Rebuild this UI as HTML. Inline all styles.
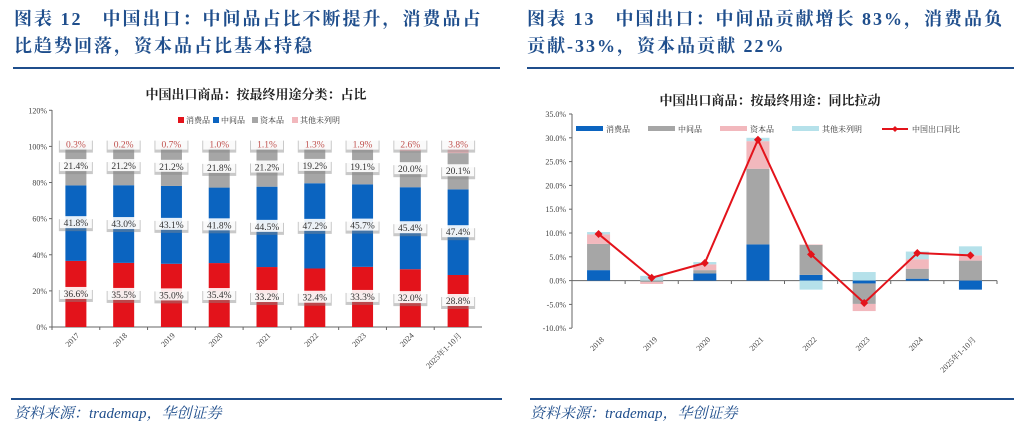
<!DOCTYPE html>
<html><head><meta charset="utf-8"><style>
body{margin:0;background:#fff;width:1024px;height:438px;overflow:hidden}
svg{display:block}
</style></head><body>
<svg id="s" width="1024" height="438" xmlns="http://www.w3.org/2000/svg" font-family="'Liberation Serif','Noto Serif CJK SC',serif">
<g font-family="'Liberation Serif','Noto Serif CJK SC',serif" font-weight="bold" font-size="18" fill="#1f4e8c" letter-spacing="2">
<text x="14" y="25">图表 12　中国出口：中间品占比不断提升，消费品占</text>
<text x="14" y="52">比趋势回落，资本品占比基本持稳</text>
<text x="527" y="25">图表 13　中国出口：中间品贡献增长 83%，消费品负</text>
<text x="527" y="52">贡献-33%，资本品贡献 22%</text>
</g>
<rect x="13" y="67" width="487" height="2" fill="#1f4e8c"/>
<rect x="527" y="67" width="487" height="2" fill="#1f4e8c"/>
<rect x="11" y="398" width="491" height="2" fill="#1f4e8c"/>
<rect x="530" y="398" width="484" height="2" fill="#1f4e8c"/>
<g font-style="italic" font-size="15" fill="#1f4e8c">
<text x="14" y="418">资料来源：trademap，华创证券</text>
<text x="530" y="418">资料来源：trademap，华创证券</text>
</g>
<g id="L"></g><g id="R"></g>
</svg>
<script>
const NS="http://www.w3.org/2000/svg";
function el(p,t,a,txt){const e=document.createElementNS(NS,t);for(const k in a)e.setAttribute(k,a[k]);if(txt!==undefined)e.textContent=txt;p.appendChild(e);return e;}
const L=document.getElementById('L');
el(L,'text',{x:256,y:99,'text-anchor':'middle','font-size':13,'font-weight':'bold',fill:'#222'},'中国出口商品：按最终用途分类：占比');
const y0=327,pp=1.806,xl=52,xr=482;
for(let i=0;i<=6;i++){const y=y0-i*20*pp;el(L,'text',{x:47,y:y+3,'text-anchor':'end','font-size':8,fill:'#444'},(i*20)+'%');el(L,'line',{x1:49,x2:52,y1:y,y2:y,stroke:'#666'});}
el(L,'line',{x1:52,x2:52,y1:110,y2:327,stroke:'#666'});
el(L,'line',{x1:52,x2:482,y1:327,y2:327,stroke:'#666'});
const D=[[36.6,41.8,21.4,0.3],[35.5,43.0,21.2,0.2],[35.0,43.1,21.2,0.7],[35.4,41.8,21.8,1.0],[33.2,44.5,21.2,1.1],[32.4,47.2,19.2,1.3],[33.3,45.7,19.1,1.9],[32.0,45.4,20.0,2.6],[28.8,47.4,20.1,3.8]];
const yrs=['2017','2018','2019','2020','2021','2022','2023','2024','2025年1-10月'];
const cols=['#e3131b','#0b64c0','#a6a6a6','#f2b8bd'];
const cw=(xr-xl)/9;
D.forEach((d,i)=>{const cx=xl+cw*(i+0.5);let acc=0;
 d.forEach((v,j)=>{el(L,'rect',{x:cx-10.5,y:y0-(acc+v)*pp,width:21,height:v*pp,fill:cols[j]});acc+=v;});
 acc=0;
 d.forEach((v,j)=>{let mid=j==3?101:acc+v/2;acc+=v;const y=y0-mid*pp;
  el(L,'rect',{x:cx-17,y:y-4,width:34,height:12,fill:'#888',opacity:0.45});
  el(L,'rect',{x:cx-16,y:y-7,width:32,height:12,fill:'#fff',opacity:0.9});
  el(L,'text',{x:cx,y:y+3,'text-anchor':'middle','font-size':9.5,fill:j==3?'#c0504d':'#333'},v.toFixed(1)+'%');});
 el(L,'line',{x1:xl+cw*i,x2:xl+cw*i,y1:327,y2:330,stroke:'#666'});
 el(L,'text',{transform:`translate(${cx+4},${336}) rotate(-45)`,'text-anchor':'end','font-size':8,fill:'#444'},yrs[i]);});
const lg=[['消费品',178],['中间品',213],['资本品',252],['其他未列明',292]];
lg.forEach((g,j)=>{el(L,'rect',{x:g[1],y:117,width:6,height:6,fill:cols[j]});el(L,'text',{x:g[1]+8,y:123,'font-size':8,fill:'#333'},g[0]);});
const R=document.getElementById('R');
el(R,'text',{x:770,y:105,'text-anchor':'middle','font-size':13,'font-weight':'bold',fill:'#222'},'中国出口商品：按最终用途：同比拉动');
const ry=v=>280.6-v*4.76, rl=572, rr=997;
for(let v=-10;v<=35;v+=5){el(R,'text',{x:566,y:ry(v)+3,'text-anchor':'end','font-size':8,fill:'#444'},v.toFixed(1)+'%');el(R,'line',{x1:569,x2:572,y1:ry(v),y2:ry(v),stroke:'#666'});}
el(R,'line',{x1:572,x2:572,y1:114,y2:328,stroke:'#666'});
el(R,'line',{x1:572,x2:997,y1:280.6,y2:280.6,stroke:'#666'});
const rc=['#0b64c0','#a6a6a6','#f2b8bd','#b5e1ea'];
const S=[
[[0,0,2.2],[1,2.2,7.7],[2,7.7,9.7],[3,9.7,10.2]],
[[3,0,1.0],[1,0,-0.3],[2,-0.3,-0.7]],
[[0,0,1.5],[1,1.5,2.2],[2,2.2,3.4],[3,3.4,3.9]],
[[0,0,7.6],[1,7.6,23.5],[2,23.5,29.3],[3,29.3,30]],
[[0,0,1.2],[1,1.2,7.5],[2,7.5,7.6],[3,0,-1.9]],
[[3,0,1.8],[0,0,-0.6],[1,-0.6,-4.9],[2,-4.9,-6.4]],
[[0,0,0.4],[1,0.4,2.5],[2,2.5,4.5],[3,4.5,6.1]],
[[1,0,4.2],[2,4.2,5.3],[3,5.3,7.2],[0,0,-1.9]]];
const ln=[9.8,0.6,3.7,29.6,5.5,-4.7,5.8,5.3];
const ry2=['2018','2019','2020','2021','2022','2023','2024','2025年1-10月'];
const rw=(rr-rl)/8;let pts=[];
S.forEach((s,i)=>{const cx=rl+rw*(i+0.5);
 s.forEach(g=>{const a=ry(Math.max(g[1],g[2])),b=ry(Math.min(g[1],g[2]));el(R,'rect',{x:cx-11.5,y:a,width:23,height:b-a,fill:rc[g[0]]});});
 pts.push(cx+','+ry(ln[i]));
 el(R,'line',{x1:rl+rw*(i+1),x2:rl+rw*(i+1),y1:280.6,y2:284,stroke:'#666'});
 el(R,'text',{transform:`translate(${cx+6},${340}) rotate(-45)`,'text-anchor':'end','font-size':8,fill:'#444'},ry2[i]);});
el(R,'polyline',{points:pts.join(' '),fill:'none',stroke:'#e3131b','stroke-width':2});
pts.forEach(p=>{const [x,y]=p.split(',').map(Number);el(R,'path',{d:`M${x} ${y-4}L${x+4} ${y}L${x} ${y+4}L${x-4} ${y}Z`,fill:'#e3131b'});});
const rg=[['消费品',576,0],['中间品',648,1],['资本品',720,2],['其他未列明',792,3]];
rg.forEach(g=>{el(R,'rect',{x:g[1],y:126,width:27,height:5,fill:rc[g[2]]});el(R,'text',{x:g[1]+30,y:132,'font-size':8,fill:'#333'},g[0]);});
el(R,'line',{x1:882,x2:908,y1:129,y2:129,stroke:'#e3131b','stroke-width':2});
el(R,'path',{d:'M895 126L898 129L895 132L892 129Z',fill:'#e3131b'});
el(R,'text',{x:912,y:132,'font-size':8,fill:'#333'},'中国出口同比');
</script>
</body></html>
